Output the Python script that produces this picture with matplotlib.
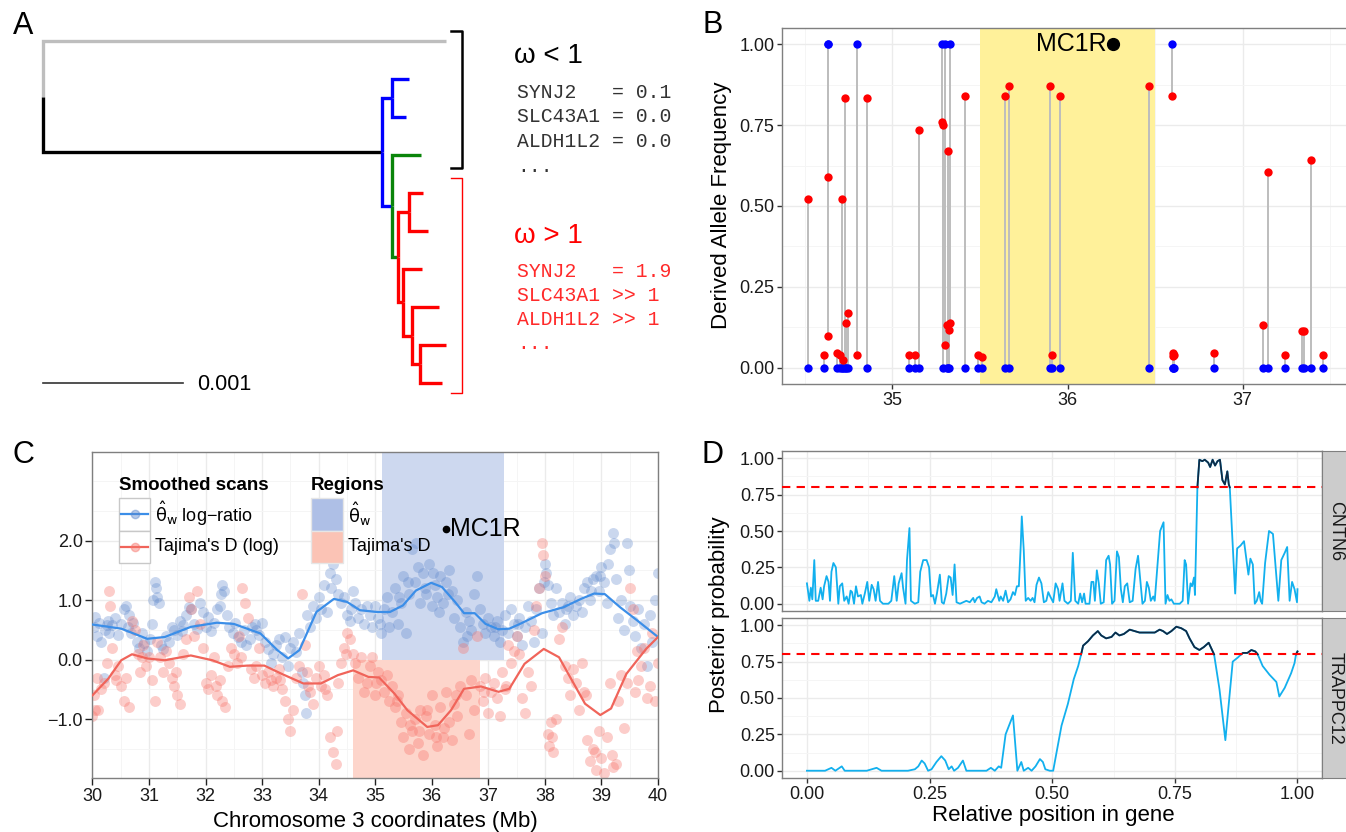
import numpy as np
import matplotlib
matplotlib.use("Agg")
import matplotlib.pyplot as plt
from matplotlib.patches import Rectangle
from matplotlib.lines import Line2D

W, H = 1346, 832
plt.rcParams["font.family"] = ["Liberation Sans", "DejaVu Sans"]
plt.rcParams["mathtext.fontset"] = "dejavusans"

# ---------------- panel A: tree (depth in subst./site, tips by row)
NODE_DEPTH = {
    "root": 0.0, "out": 0.002879, "ing": 0.002421,
    "bn": 0.00249, "b1": 0.002617, "b2": 0.002593,
    "gn": 0.00249, "g": 0.002697, "rr": 0.002536,
    "ra": 0.002617, "r1": 0.002714, "r2": 0.002747,
    "rb": 0.002574, "r3": 0.002704, "rc": 0.002636, "r4": 0.002829,
    "rd": 0.002691, "r5": 0.002879, "r6": 0.00285,
}
TIP_ROW = {"out": 0, "b1": 1, "b2": 2, "g": 3, "r1": 4, "r2": 5,
           "r3": 6, "r4": 7, "r5": 8, "r6": 9}
EDGES = [
    ("root", "out", "#bebebe"), ("root", "ing", "black"),
    ("ing", "bn", "#0000ff"), ("ing", "gn", "#0000ff"),
    ("bn", "b1", "#0000ff"), ("bn", "b2", "#0000ff"),
    ("gn", "g", "#0a850a"), ("gn", "rr", "#0a850a"),
    ("rr", "ra", "#ff0000"), ("rr", "rb", "#ff0000"),
    ("ra", "r1", "#ff0000"), ("ra", "r2", "#ff0000"),
    ("rb", "r3", "#ff0000"), ("rb", "rc", "#ff0000"),
    ("rc", "r4", "#ff0000"), ("rc", "rd", "#ff0000"),
    ("rd", "r5", "#ff0000"), ("rd", "r6", "#ff0000"),
]
SCALE_BAR = 0.001
LOW_GENES = ["SYNJ2   = 0.1", "SLC43A1 = 0.0", "ALDH1L2 = 0.0", "..."]
HIGH_GENES = ["SYNJ2   = 1.9", "SLC43A1 >> 1", "ALDH1L2 >> 1", "..."]

# ---------------- panel B: derived allele frequencies per SNP
snp_pos = [34.516, 34.611, 34.630, 34.632, 34.681, 34.700, 34.710, 34.715,
           34.727, 34.732, 34.747, 34.798, 34.854, 35.094, 35.130, 35.150,
           35.283, 35.290, 35.298, 35.312, 35.317, 35.322, 35.326, 35.417,
           35.490, 35.509, 35.645, 35.667, 35.900, 35.914, 35.958, 36.463,
           36.597, 36.601, 36.604, 36.607, 36.839, 37.116, 37.145, 37.240,
           37.342, 37.351, 37.393, 37.461]
daf_blue = [0, 0, 1, 1, 0, 0, 0, 0,
            0, 0, 0, 1, 0, 0, 0, 0,
            1, 0, 1, 0, 0, 0, 1, 0,
            0, 0, 0, 0, 0, 0, 0, 0,
            1, 0, 0, 0, 0, 0, 0, 0,
            0, 0, 0, 0]
daf_red = [0.523, 0.039, 0.59, 0.097, 0.045, 0.04, 0.523, 0.024,
           0.833, 0.138, 0.169, 0.039, 0.833, 0.039, 0.039, 0.736,
           0.759, 0.749, 0.072, 0.133, 0.67, 0.116, 0.138, 0.841,
           0.039, 0.033, 0.841, 0.87, 0.87, 0.039, 0.841, 0.87,
           0.841, 0.046, 0.035, 0.04, 0.045, 0.133, 0.605, 0.039,
           0.115, 0.115, 0.641, 0.04]
mc1r_pos = 36.26
daf_region = (35.5, 36.5)

# ---------------- panel C: scans along chromosome 3
theta_x = [30.02, 30.05, 30.08, 30.12, 30.15, 30.2, 30.22, 30.27, 30.3, 30.35, 30.4, 30.45,
           30.5, 30.55, 30.6, 30.63, 30.68, 30.72, 30.78, 30.82, 30.88, 30.92, 30.97, 31.02,
           31.05, 31.1, 31.12, 31.15, 31.18, 31.22, 31.25, 31.3, 31.35, 31.4, 31.45, 31.5,
           31.55, 31.6, 31.65, 31.7, 31.75, 31.8, 31.85, 31.9, 31.95, 32.0, 32.05, 32.1,
           32.15, 32.2, 32.25, 32.3, 32.33, 32.38, 32.42, 32.48, 32.52, 32.58, 32.62, 32.68,
           32.72, 32.78, 32.82, 32.88, 32.95, 33.0, 33.05, 33.1, 33.15, 33.2, 33.25, 33.3,
           33.35, 33.4, 33.45, 33.5, 33.55, 33.6, 33.65, 33.7, 33.72, 33.75, 33.78, 33.8,
           33.85, 33.9, 33.95, 34.0, 34.05, 34.1, 34.15, 34.2, 34.25, 34.3, 34.35, 34.4,
           34.45, 34.5, 34.55, 34.6, 34.65, 34.7, 34.75, 34.8, 34.85, 34.9, 34.95, 35.0,
           35.05, 35.1, 35.15, 35.2, 35.25, 35.3, 35.35, 35.4, 35.45, 35.5, 35.55, 35.6,
           35.65, 35.7, 35.75, 35.8, 35.85, 35.9, 35.95, 36.0, 36.05, 36.1, 36.15, 36.2,
           36.25, 36.3, 36.35, 36.4, 36.45, 36.5, 36.55, 36.6, 36.65, 36.7, 36.75, 36.8,
           36.85, 36.9, 36.95, 37.0, 37.05, 37.1, 37.15, 37.2, 37.25, 37.3, 37.35, 37.4,
           37.45, 37.5, 37.55, 37.6, 37.65, 37.7, 37.75, 37.8, 37.85, 37.9, 37.95, 38.0,
           38.02, 38.05, 38.1, 38.15, 38.2, 38.25, 38.3, 38.35, 38.4, 38.45, 38.5, 38.55,
           38.6, 38.65, 38.7, 38.75, 38.8, 38.85, 38.9, 38.95, 39.0, 39.05, 39.1, 39.15,
           39.2, 39.22, 39.25, 39.3, 39.35, 39.4, 39.45, 39.48, 39.5, 39.55, 39.6, 39.65,
           39.7, 39.75, 39.8, 39.85, 39.9, 39.95, 40.0,
           30.25, 30.65, 31.08, 31.58, 32.28, 32.9, 34.22, 34.58, 35.08, 35.42, 35.58, 35.72,
           35.88, 36.02, 36.12, 36.28, 36.62, 37.12, 37.52, 37.98, 38.38, 38.82, 38.98, 39.12]
theta_y = [0.55, 0.72, 0.40, 0.62, 0.30, -0.30, 0.50, 0.65, 0.45, 0.58, 0.70, 0.42,
           0.60, 0.85, 0.90, 0.55, 0.45, 0.62, 0.30, 0.20, 0.45, 0.28, 0.15, 0.35,
           0.60, 1.30, 1.20, 1.05, 0.95, 0.25, 0.18, 0.40, 0.30, 0.55, 0.50, 0.42,
           0.65, 0.58, 0.75, 0.88, 0.85, 0.60, 0.52, 0.95, 0.80, 0.55, 0.72, 0.48,
           0.62, 0.85, 0.90, 1.25, 1.15, 0.75, 0.55, 0.45, 0.62, 0.38, 0.30, 0.50,
           0.25, 0.35, 0.55, 0.60, 0.42, 0.62, 0.30, 0.18, -0.05, 0.10, 0.25, 0.35,
           0.05, 0.38, -0.10, 0.20, 0.30, 0.12, 0.45, -0.20, -0.40, -0.60, -0.90, 0.75,
           0.55, 0.90, 0.70, 1.05, 0.85, 1.25, 0.80, 1.45, 1.60, 1.35, 1.10, 0.95,
           1.05, 0.75, 0.65, 1.15, 0.95, 0.70, 0.85, 0.60, 0.90, 0.75, 0.55, 0.90,
           0.70, 0.45, 0.85, 1.05, 0.55, 0.80, 1.20, 0.60, 0.95, 1.40, 0.45, 1.10,
           1.85, 1.30, 1.55, 0.95, 1.45, 1.10, 1.60, 0.90, 1.25, 1.05, 1.40, 0.95,
           1.30, 1.50, 1.15, 0.70, 1.00, 0.55, 0.30, 0.80, 0.65, 0.50, 1.10, 1.40,
           0.85, 0.60, 0.45, 0.70, 0.55, 0.40, 0.65, 0.30, 0.50, 0.75, 0.45, 0.85,
           0.60, 0.40, 0.70, 0.25, 0.55, 0.90, 0.65, 0.30, 0.85, 1.20, 0.45, 1.60,
           1.45, 1.25, 0.95, 0.75, 1.20, 0.80, 0.95, 0.60, 0.90, 1.05, 0.75, 0.90,
           1.00, 0.80, 1.20, 1.30, 1.00, 1.35, 1.40, 1.15, 1.55, 1.30, 0.95, 1.85,
           2.13, 1.95, 1.35, 0.70, 1.00, 0.50, 1.95, 1.50, 0.90, 0.65, 0.40, 0.85,
           0.20, 0.60, -0.10, 0.75, 0.30, 1.00, 1.45,
           0.58, 0.75, 1.00, 0.48, 1.10, 0.50, 1.20, 0.85, 0.60, 1.05, 1.30, 1.95,
           1.20, 1.45, 0.80, 1.10, 0.40, 0.55, 0.60, 1.30, 0.85, 1.15, 1.40, 1.60]
tajd_x = [30.0, 30.03, 30.05, 30.08, 30.1, 30.15, 30.2, 30.25, 30.3, 30.32, 30.35, 30.4,
          30.45, 30.5, 30.55, 30.6, 30.65, 30.7, 30.75, 30.8, 30.85, 30.9, 30.95, 31.0,
          31.05, 31.1, 31.15, 31.2, 31.25, 31.3, 31.35, 31.4, 31.45, 31.5, 31.55, 31.6,
          31.65, 31.7, 31.75, 31.8, 31.85, 31.9, 31.95, 32.0, 32.05, 32.1, 32.15, 32.2,
          32.25, 32.3, 32.35, 32.4, 32.45, 32.5, 32.55, 32.6, 32.65, 32.7, 32.75, 32.8,
          32.85, 32.9, 32.95, 33.0, 33.05, 33.1, 33.15, 33.2, 33.25, 33.3, 33.35, 33.4,
          33.45, 33.5, 33.55, 33.6, 33.65, 33.7, 33.75, 33.8, 33.85, 33.9, 33.95, 34.0,
          34.05, 34.1, 34.15, 34.2, 34.25, 34.3, 34.32, 34.35, 34.4, 34.45, 34.5, 34.55,
          34.6, 34.65, 34.7, 34.75, 34.8, 34.85, 34.9, 34.95, 35.0, 35.05, 35.1, 35.15,
          35.2, 35.25, 35.3, 35.35, 35.4, 35.45, 35.5, 35.55, 35.6, 35.65, 35.7, 35.75,
          35.8, 35.85, 35.9, 35.95, 36.0, 36.05, 36.1, 36.15, 36.2, 36.25, 36.3, 36.35,
          36.4, 36.45, 36.5, 36.55, 36.6, 36.65, 36.7, 36.75, 36.8, 36.85, 36.9, 36.95,
          37.0, 37.05, 37.1, 37.15, 37.2, 37.25, 37.3, 37.35, 37.4, 37.45, 37.5, 37.55,
          37.6, 37.65, 37.7, 37.75, 37.8, 37.85, 37.9, 37.95, 37.97, 38.0, 38.05, 38.08,
          38.1, 38.15, 38.2, 38.25, 38.3, 38.35, 38.4, 38.45, 38.5, 38.55, 38.6, 38.65,
          38.7, 38.75, 38.8, 38.85, 38.9, 38.95, 39.0, 39.05, 39.1, 39.15, 39.2, 39.25,
          39.3, 39.35, 39.4, 39.45, 39.5, 39.55, 39.6, 39.65, 39.7, 39.75, 39.8, 39.85,
          39.9, 39.95, 40.0,
          30.42, 30.88, 31.48, 32.18, 32.62, 33.32, 33.82, 34.12, 34.48, 35.02, 35.38, 35.62,
          35.78, 35.92, 36.08, 36.22, 36.42, 36.92, 37.32, 38.12, 38.72, 38.88, 39.18, 39.62]
tajd_y = [-0.95, -0.60, -0.85, -0.30, -0.85, -0.50, -0.40, -0.05, 1.15, 0.90, 0.20, -0.25,
          -0.10, -0.45, -0.70, -0.30, -0.80, 0.65, 0.50, 0.10, -0.20, 0.25, -0.10, 0.05,
          -0.35, -0.70, 0.30, 0.05, -0.20, 0.15, -0.05, -0.30, -0.45, -0.60, -0.75, 0.10,
          0.35, 1.05, 0.85, 0.40, 1.15, 0.60, 0.20, -0.40, -0.50, -0.25, 0.05, -0.60,
          -0.35, -0.70, -0.80, -0.10, 0.20, 0.10, -0.05, 0.40, 1.20, 0.95, 0.70, -0.15,
          -0.30, -0.10, 0.20, -0.25, -0.40, -0.20, -0.35, -0.45, -0.30, -0.15, -0.50, -0.70,
          -1.00, -1.20, -0.85, -0.30, -0.10, 1.10, 0.25, -0.20, -0.55, -0.75, -0.30, -0.10,
          -0.45, -0.25, -0.60, -1.30, -1.55, -1.75, -1.20, -0.40, -0.05, 0.20, 0.45, 0.35,
          0.10, -0.05, -0.30, 0.05, -0.55, -0.40, -0.10, 0.05, -0.60, -0.20, -0.35, -0.55,
          -0.25, -0.70, -0.45, -0.80, -0.60, -1.05, -1.30, -0.90, -1.50, -1.20, -1.00, -1.40,
          -0.85, -1.60, -0.95, -1.25, -0.60, -1.10, -1.45, -0.80, -1.30, -0.55, -1.05, -1.35,
          -0.75, -0.95, -0.45, 0.20, -0.60, -1.25, -0.35, -0.85, 0.40, -0.45, -0.70, -0.30,
          -0.90, -0.55, -0.40, -0.65, -0.95, -0.20, -0.50, 0.25, -0.05, 0.15, 0.40, 0.10,
          -0.65, -0.90, -0.20, -0.45, 0.50, 0.90, 1.20, 1.95, 1.75, 1.40, -1.25, -1.45,
          -1.05, -1.55, -1.00, 0.35, 0.55, -0.10, -0.30, -0.60, -0.15, -0.40, -0.85, -0.05,
          -0.55, -1.35, -1.70, -1.50, -1.85, -1.20, -1.65, -1.90, -1.30, -0.40, -1.80, -1.75,
          -0.70, -0.25, -1.15, -0.40, 1.20, 0.85, -0.55, -0.35, -0.10, 0.20, -0.65, -0.45,
          0.45, -0.70, -0.05,
          -0.35, 0.05, -0.20, -0.45, 0.05, -0.35, -0.45, -0.50, 0.10, -0.40, -0.70, -1.10,
          -1.20, -0.85, -1.30, -1.15, -0.60, -0.55, -0.45, -1.30, -0.60, -1.55, -1.60, 0.15]
smooth_theta_x = [30.0, 30.51, 30.97, 31.28, 31.74, 32.2, 32.5, 32.97, 33.27, 33.46, 33.66,
                  33.96, 34.27, 34.5, 34.73, 35.03, 35.26, 35.49, 35.72, 35.99, 36.18, 36.41,
                  36.57, 36.76, 36.95, 37.18, 37.37, 37.56, 37.95, 38.33, 38.64, 38.87, 39.06,
                  39.33, 39.63, 40.0]
smooth_theta_y = [0.59, 0.52, 0.35, 0.38, 0.55, 0.62, 0.60, 0.44, 0.16, 0.02, 0.16,
                  0.80, 1.02, 0.97, 0.83, 0.80, 0.80, 0.91, 1.16, 1.29, 1.22, 0.97,
                  0.78, 0.78, 0.60, 0.51, 0.52, 0.60, 0.78, 0.88, 1.02, 1.11, 1.10,
                  0.88, 0.66, 0.38]
smooth_tajd_x = [30.0, 30.28, 30.51, 30.7, 30.97, 31.28, 31.74, 32.12, 32.43, 32.74, 33.04,
                 33.35, 33.73, 34.04, 34.34, 34.61, 34.88, 35.07, 35.34, 35.57, 35.92, 36.11,
                 36.34, 36.57, 36.87, 37.18, 37.37, 37.64, 37.98, 38.25, 38.48, 38.71, 38.98,
                 39.17, 39.44, 39.79, 40.0]
smooth_tajd_y = [-0.60, -0.32, -0.01, 0.09, 0.02, -0.01, 0.07, -0.01, -0.12, -0.10, -0.10,
                 -0.24, -0.40, -0.40, -0.26, -0.18, -0.29, -0.30, -0.57, -0.85, -1.13, -1.10,
                 -0.85, -0.49, -0.45, -0.54, -0.49, -0.07, 0.18, 0.04, -0.35, -0.74, -0.93,
                 -0.82, -0.24, 0.18, 0.38]
theta_region = (35.12, 37.27)
tajd_region = (34.61, 36.86)
mc1r_y_c = 2.19

# ---------------- panel D: posterior probability along genes
cntn6_x = [0.0, 0.005, 0.008, 0.011, 0.015, 0.018, 0.023, 0.028, 0.032, 0.035, 0.040, 0.044,
           0.047, 0.050, 0.054, 0.059, 0.064, 0.067, 0.072, 0.076, 0.081, 0.085, 0.089, 0.092,
           0.096, 0.100, 0.104, 0.110, 0.113, 0.118, 0.123, 0.127, 0.132, 0.136, 0.140, 0.145,
           0.149, 0.155, 0.166, 0.172, 0.178, 0.183, 0.187, 0.193, 0.196, 0.201, 0.204, 0.209,
           0.212, 0.220, 0.227, 0.231, 0.237, 0.244, 0.249, 0.253, 0.257, 0.261, 0.265, 0.271,
           0.275, 0.279, 0.284, 0.289, 0.293, 0.297, 0.301, 0.305, 0.312, 0.325, 0.332, 0.339,
           0.342, 0.347, 0.352, 0.356, 0.362, 0.369, 0.376, 0.383, 0.386, 0.392, 0.395, 0.400,
           0.405, 0.410, 0.415, 0.420, 0.424, 0.428, 0.432, 0.436, 0.438, 0.442, 0.446, 0.451,
           0.456, 0.460, 0.464, 0.468, 0.473, 0.478, 0.483, 0.488, 0.492, 0.496, 0.502, 0.507,
           0.512, 0.515, 0.521, 0.525, 0.532, 0.538, 0.542, 0.547, 0.553, 0.557, 0.561, 0.565,
           0.568, 0.576, 0.580, 0.584, 0.587, 0.591, 0.595, 0.599, 0.605, 0.610, 0.615, 0.618,
           0.622, 0.627, 0.632, 0.636, 0.640, 0.644, 0.648, 0.653, 0.658, 0.664, 0.670, 0.675,
           0.680, 0.684, 0.689, 0.693, 0.697, 0.701, 0.706, 0.709, 0.715, 0.720, 0.727, 0.731,
           0.735, 0.739, 0.743, 0.748, 0.760, 0.766, 0.770, 0.773, 0.777, 0.782, 0.785, 0.789,
           0.791, 0.796, 0.800, 0.806, 0.811, 0.818, 0.822, 0.827, 0.832, 0.837, 0.842, 0.847,
           0.852, 0.857, 0.860, 0.862, 0.873, 0.877, 0.884, 0.891, 0.896, 0.900, 0.904, 0.909,
           0.913, 0.917, 0.922, 0.925, 0.928, 0.934, 0.942, 0.950, 0.961, 0.967, 0.974, 0.979,
           0.984, 0.989, 0.994, 0.999, 1.0]
cntn6_p = [0.14, 0.02, 0.11, 0.03, 0.30, 0.02, 0.02, 0.11, 0.03, 0.12, 0.19, 0.15,
           0.02, 0.22, 0.28, 0.25, 0.00, 0.12, 0.14, 0.02, 0.05, 0.00, 0.09, 0.08,
           0.00, 0.12, 0.05, 0.06, 0.00, 0.07, 0.15, 0.02, 0.13, 0.10, 0.02, 0.15,
           0.02, 0.00, 0.00, 0.02, 0.19, 0.02, 0.14, 0.21, 0.11, 0.00, 0.30, 0.52,
           0.02, 0.00, 0.01, 0.22, 0.30, 0.30, 0.25, 0.05, 0.06, 0.00, 0.07, 0.20,
           0.01, 0.00, 0.07, 0.19, 0.18, 0.06, 0.27, 0.01, 0.00, 0.02, 0.01, 0.04,
           0.01, 0.04, 0.05, 0.01, 0.00, 0.02, 0.01, 0.05, 0.10, 0.02, 0.05, 0.02,
           0.09, 0.01, 0.03, 0.08, 0.06, 0.12, 0.12, 0.41, 0.60, 0.37, 0.02, 0.04,
           0.02, 0.04, 0.01, 0.13, 0.18, 0.14, 0.01, 0.02, 0.08, 0.05, 0.01, 0.14,
           0.10, 0.02, 0.14, 0.02, 0.00, 0.02, 0.35, 0.02, 0.00, 0.07, 0.01, 0.07,
           0.00, 0.00, 0.15, 0.15, 0.02, 0.23, 0.14, 0.00, 0.01, 0.30, 0.33, 0.27,
           0.00, 0.02, 0.36, 0.32, 0.10, 0.01, 0.12, 0.14, 0.01, 0.02, 0.24, 0.33,
           0.15, 0.00, 0.02, 0.15, 0.11, 0.02, 0.05, 0.02, 0.28, 0.50, 0.56, 0.00,
           0.06, 0.02, 0.03, 0.00, 0.00, 0.02, 0.30, 0.27, 0.00, 0.14, 0.12, 0.18,
           0.06, 0.80, 0.99, 0.98, 0.99, 0.97, 0.94, 0.99, 0.95, 0.98, 0.99, 0.85,
           0.82, 0.91, 0.82, 0.80, 0.07, 0.38, 0.40, 0.43, 0.30, 0.20, 0.31, 0.27,
           0.00, 0.02, 0.08, 0.02, 0.00, 0.28, 0.50, 0.48, 0.02, 0.30, 0.35, 0.39,
           0.02, 0.15, 0.10, 0.01, 0.10]
trappc12_x = [0.0, 0.016, 0.037, 0.050, 0.058, 0.071, 0.077, 0.098, 0.122, 0.142, 0.152, 0.179,
              0.206, 0.220, 0.227, 0.234, 0.240, 0.247, 0.254, 0.264, 0.274, 0.282, 0.289, 0.295,
              0.300, 0.308, 0.318, 0.325, 0.342, 0.356, 0.366, 0.375, 0.383, 0.391, 0.396, 0.405,
              0.420, 0.429, 0.437, 0.442, 0.451, 0.458, 0.466, 0.475, 0.481, 0.486, 0.495, 0.502,
              0.508, 0.519, 0.532, 0.544, 0.553, 0.559, 0.563, 0.573, 0.583, 0.593, 0.600, 0.610,
              0.621, 0.629, 0.637, 0.646, 0.658, 0.668, 0.678, 0.688, 0.699, 0.709, 0.719, 0.726,
              0.734, 0.743, 0.753, 0.763, 0.773, 0.780, 0.790, 0.800, 0.809, 0.819, 0.830, 0.841,
              0.853, 0.868, 0.879, 0.885, 0.889, 0.898, 0.906, 0.914, 0.919, 0.929, 0.943, 0.957,
              0.963, 0.974, 0.987, 0.994, 0.997, 1.0]
trappc12_p = [0.00, 0.00, 0.00, 0.02, 0.00, 0.03, 0.00, 0.00, 0.00, 0.02, 0.00, 0.00,
              0.00, 0.01, 0.03, 0.07, 0.05, 0.00, 0.01, 0.06, 0.10, 0.07, 0.01, 0.03,
              0.00, 0.02, 0.07, 0.00, 0.00, 0.00, 0.00, 0.02, 0.00, 0.03, 0.02, 0.25,
              0.38, 0.00, 0.06, 0.00, 0.02, 0.00, 0.03, 0.08, 0.06, 0.01, 0.00, 0.00,
              0.11, 0.31, 0.46, 0.63, 0.72, 0.80, 0.86, 0.89, 0.93, 0.96, 0.93, 0.91,
              0.92, 0.95, 0.93, 0.94, 0.97, 0.96, 0.95, 0.95, 0.95, 0.95, 0.97, 0.96,
              0.94, 0.96, 0.99, 0.98, 0.96, 0.91, 0.85, 0.83, 0.85, 0.88, 0.80, 0.56,
              0.21, 0.75, 0.78, 0.80, 0.81, 0.81, 0.83, 0.82, 0.80, 0.72, 0.66, 0.61,
              0.51, 0.57, 0.67, 0.74, 0.80, 0.82]
threshold = 0.8


def box(left, top, right, bottom):
    return [left / W, 1 - bottom / H, (right - left) / W, (bottom - top) / H]


def ftext(x, y, s, **kw):
    fig.text(x / W, 1 - y / H, s, **kw)


def bw_axes(ax):
    for sp in ax.spines.values():
        sp.set_color("#7f7f7f")
        sp.set_linewidth(1.0)
    ax.grid(True, which="major", color="#ebebeb", lw=1.0)
    ax.grid(True, which="minor", color="#f5f5f5", lw=0.7)
    ax.set_axisbelow(True)
    ax.tick_params(which="major", length=3.5, width=1, color="#333333",
                   labelsize=13, labelcolor="#1a1a1a", pad=2)
    ax.tick_params(which="minor", length=0)


fig = plt.figure(figsize=(W / 100, H / 100), dpi=100)

# ================= A
axA = fig.add_axes(box(0, 0, 680, 420))
px_per_unit = 140000
axA.set_xlim(-43 / px_per_unit, 637 / px_per_unit)
axA.set_ylim((420 - 41) / 38, -41 / 38)
axA.axis("off")

children = {}
for p, c, _ in EDGES:
    children.setdefault(p, []).append(c)


def node_row(n):
    if n in TIP_ROW:
        return TIP_ROW[n]
    return np.mean([node_row(c) for c in children[n]])


for p, c, col in EDGES:
    xp, xc = NODE_DEPTH[p], NODE_DEPTH[c]
    yp, yc = node_row(p), node_row(c)
    axA.plot([xp, xp, xc], [yp, yc, yc], color=col, lw=2.4,
             solid_capstyle="butt", solid_joinstyle="miter")

axA.plot([0, SCALE_BAR], [9, 9], color="#333333", lw=1.2)
ftext(197, 384, "0.001", fontsize=15.5, va="center", ha="left")

# brackets
fig.add_artist(Line2D([451 / W, 462 / W, 462 / W, 451 / W],
                      [1 - 31 / H, 1 - 31 / H, 1 - 168 / H, 1 - 168 / H],
                      color="black", lw=1.8))
fig.add_artist(Line2D([451 / W, 462 / W, 462 / W, 451 / W],
                      [1 - 178 / H, 1 - 178 / H, 1 - 393 / H, 1 - 393 / H],
                      color="#ff0000", lw=1.0))

ftext(514, 63, "ω < 1", fontsize=20, va="baseline", color="black")
ftext(514, 243, "ω > 1", fontsize=20, va="baseline", color="#ff0000")
for i, (lo, hi) in enumerate(zip(LOW_GENES, HIGH_GENES)):
    ftext(517, 98 + 24.5 * i, lo, fontsize=14.2, family="Liberation Mono",
          va="baseline", color="#333333")
    ftext(517, 277 + 24 * i, hi, fontsize=14.2, family="Liberation Mono",
          va="baseline", color="#ff2a2a")

# ================= B
axB = fig.add_axes(box(782, 28, 1349, 384))
bw_axes(axB)
axB.set_xlim(34.369, 37.608)
axB.set_ylim(-0.05, 1.05)
axB.axvspan(*daf_region, color="#fff19a", zorder=0.6, lw=0)
for x, b, r in zip(snp_pos, daf_blue, daf_red):
    axB.plot([x, x], [b, r], color="#bdbdbd", lw=1.4, zorder=2)
axB.scatter(snp_pos, daf_blue, s=36, color="#0000ff", zorder=3, lw=0)
axB.scatter(snp_pos, daf_red, s=36, color="#ff0000", zorder=4, lw=0)
axB.plot([mc1r_pos], [1.0], "o", color="black", ms=8.5, zorder=5)
axB.text(mc1r_pos - 0.035, 1.0, "MC1R", fontsize=18, ha="right", va="center", zorder=5)
axB.set_xticks([35, 36, 37])
axB.set_xticks([34.5, 35.5, 36.5, 37.5], minor=True)
axB.set_xticklabels(["35", "36", "37"])
axB.set_yticks([0, 0.25, 0.5, 0.75, 1.0])
axB.set_yticks([0.125, 0.375, 0.625, 0.875], minor=True)
axB.set_yticklabels(["0.00", "0.25", "0.50", "0.75", "1.00"])
ftext(722, 205, "Derived Allele Frequency", fontsize=16, rotation=90,
      ha="center", va="center")

# ================= C
axC = fig.add_axes(box(92.4, 452, 658, 778))
bw_axes(axC)
axC.set_xlim(30, 40)
axC.set_ylim(-1.987, 3.486)
axC.axvspan(theta_region[0], theta_region[1], ymin=(0 + 1.987) / (3.486 + 1.987),
            ymax=1, color="#cdd8ef", lw=0, zorder=0.6)
axC.axvspan(tajd_region[0], tajd_region[1], ymin=0, ymax=1.987 / (3.486 + 1.987),
            color="#fdd5cb", lw=0, zorder=0.6)
axC.scatter(theta_x, theta_y, s=62, color="#5f88cc", alpha=0.33, lw=0, zorder=2)
axC.scatter(tajd_x, tajd_y, s=62, color="#f8766d", alpha=0.36, lw=0, zorder=2)
axC.plot(smooth_theta_x, smooth_theta_y, color="#3b8ee8", lw=1.6, zorder=3)
axC.plot(smooth_tajd_x, smooth_tajd_y, color="#f0645a", lw=1.6, zorder=3)
axC.plot([mc1r_pos], [mc1r_y_c], "o", color="black", ms=4.5, zorder=5)
axC.text(mc1r_pos + 0.06, mc1r_y_c, "MC1R", fontsize=18, ha="left", va="center", zorder=5)
axC.set_xticks(range(30, 41))
axC.set_xticks(np.arange(30.5, 40, 1.0), minor=True)
axC.set_yticks([-1, 0, 1, 2])
axC.set_yticks([-1.5, -0.5, 0.5, 1.5, 2.5, 3.0], minor=True)
axC.set_yticklabels(["\u22121.0", "0.0", "1.0", "2.0"])
axC.tick_params(which="major", length=5, color="#222222")
ftext(375, 821, "Chromosome 3 coordinates (Mb)", fontsize=16, ha="center", va="center")

# legend of C
theta_lab = r"$\hat{\mathrm{\theta}}_{\mathrm{w}}$"
ftext(119, 485, "Smoothed scans", fontsize=13.5, weight="bold", va="center")
ftext(311, 485, "Regions", fontsize=13.5, weight="bold", va="center")
for k, (col, ptcol, lab) in enumerate([("#3b8ee8", "#5f88cc", theta_lab + " log\u2212ratio"),
                                       ("#f0645a", "#f8766d", "Tajima's D (log)")]):
    top = 498 + 32.5 * k
    fig.add_artist(Rectangle((119 / W, 1 - (top + 32.5) / H), 31 / W, 32.5 / H,
                             facecolor="white", edgecolor="#c8c8c8", lw=1.0,
                             transform=fig.transFigure))
    cy = 1 - (top + 16) / H
    fig.add_artist(Line2D([121 / W, 148 / W], [cy, cy], color=col, lw=1.6))
    fig.add_artist(Line2D([134.5 / W], [cy], marker="o", ms=6, color=ptcol,
                          alpha=0.45, lw=0))
    ftext(155, top + 16, lab, fontsize=13, va="center")
for k, (col, lab) in enumerate([("#aebfe6", theta_lab), ("#fbc3b5", "Tajima's D")]):
    top = 498 + 32.5 * k
    fig.add_artist(Rectangle((311 / W, 1 - (top + 32.5) / H), 32 / W, 32.5 / H,
                             facecolor=col, edgecolor="#e6e6e6", lw=1.0,
                             transform=fig.transFigure))
    ftext(348, top + 16, lab, fontsize=13, va="center")

# ================= D
for k, (top, bottom, xs, ps, name) in enumerate([
        (451, 611, cntn6_x, cntn6_p, "CNTN6"),
        (618, 778, trappc12_x, trappc12_p, "TRAPPC12")]):
    ax = fig.add_axes(box(782.4, top, 1322, bottom))
    bw_axes(ax)
    ax.set_xlim(-0.05, 1.05)
    ax.set_ylim(-0.05, 1.05)
    xs = np.array(xs)
    ps = np.array(ps)
    ax.plot(xs, ps, color="#12b0ee", lw=1.3, zorder=2)
    ax.plot(xs, np.where(ps >= threshold, ps, np.nan), color="#0f2b46", lw=1.3, zorder=3)
    ax.axhline(threshold, color="#ff0000", lw=1.5, dashes=(4, 3), zorder=4)
    ax.set_yticks([0, 0.25, 0.5, 0.75, 1.0])
    ax.set_yticks([0.125, 0.375, 0.625, 0.875], minor=True)
    ax.set_yticklabels(["0.00", "0.25", "0.50", "0.75", "1.00"])
    ax.set_xticks([0, 0.25, 0.5, 0.75, 1.0])
    ax.set_xticks([0.125, 0.375, 0.625, 0.875], minor=True)
    if k == 0:
        ax.tick_params(axis="x", which="both", length=0, labelbottom=False)
    else:
        ax.set_xticklabels(["0.00", "0.25", "0.50", "0.75", "1.00"])
    strip = fig.add_axes(box(1322, top, 1352, bottom))
    strip.set_xticks([])
    strip.set_yticks([])
    strip.set_facecolor("#cccccc")
    for sp in strip.spines.values():
        sp.set_color("#7f7f7f")
    strip.text(0.45, 0.5, name, rotation=-90, fontsize=13, ha="center", va="center",
               color="#1a1a1a", transform=strip.transAxes)

ftext(720, 615, "Posterior probability", fontsize=16, rotation=90, ha="center", va="center")
ftext(1053, 816, "Relative position in gene", fontsize=16, ha="center", va="center")

# panel letters
for lab, x, y in [("A", 23, 26), ("B", 713, 25), ("C", 23, 455), ("D", 712, 455)]:
    ftext(x, y, lab, fontsize=22, ha="center", va="center")

fig.savefig("out.png", dpi=100)
